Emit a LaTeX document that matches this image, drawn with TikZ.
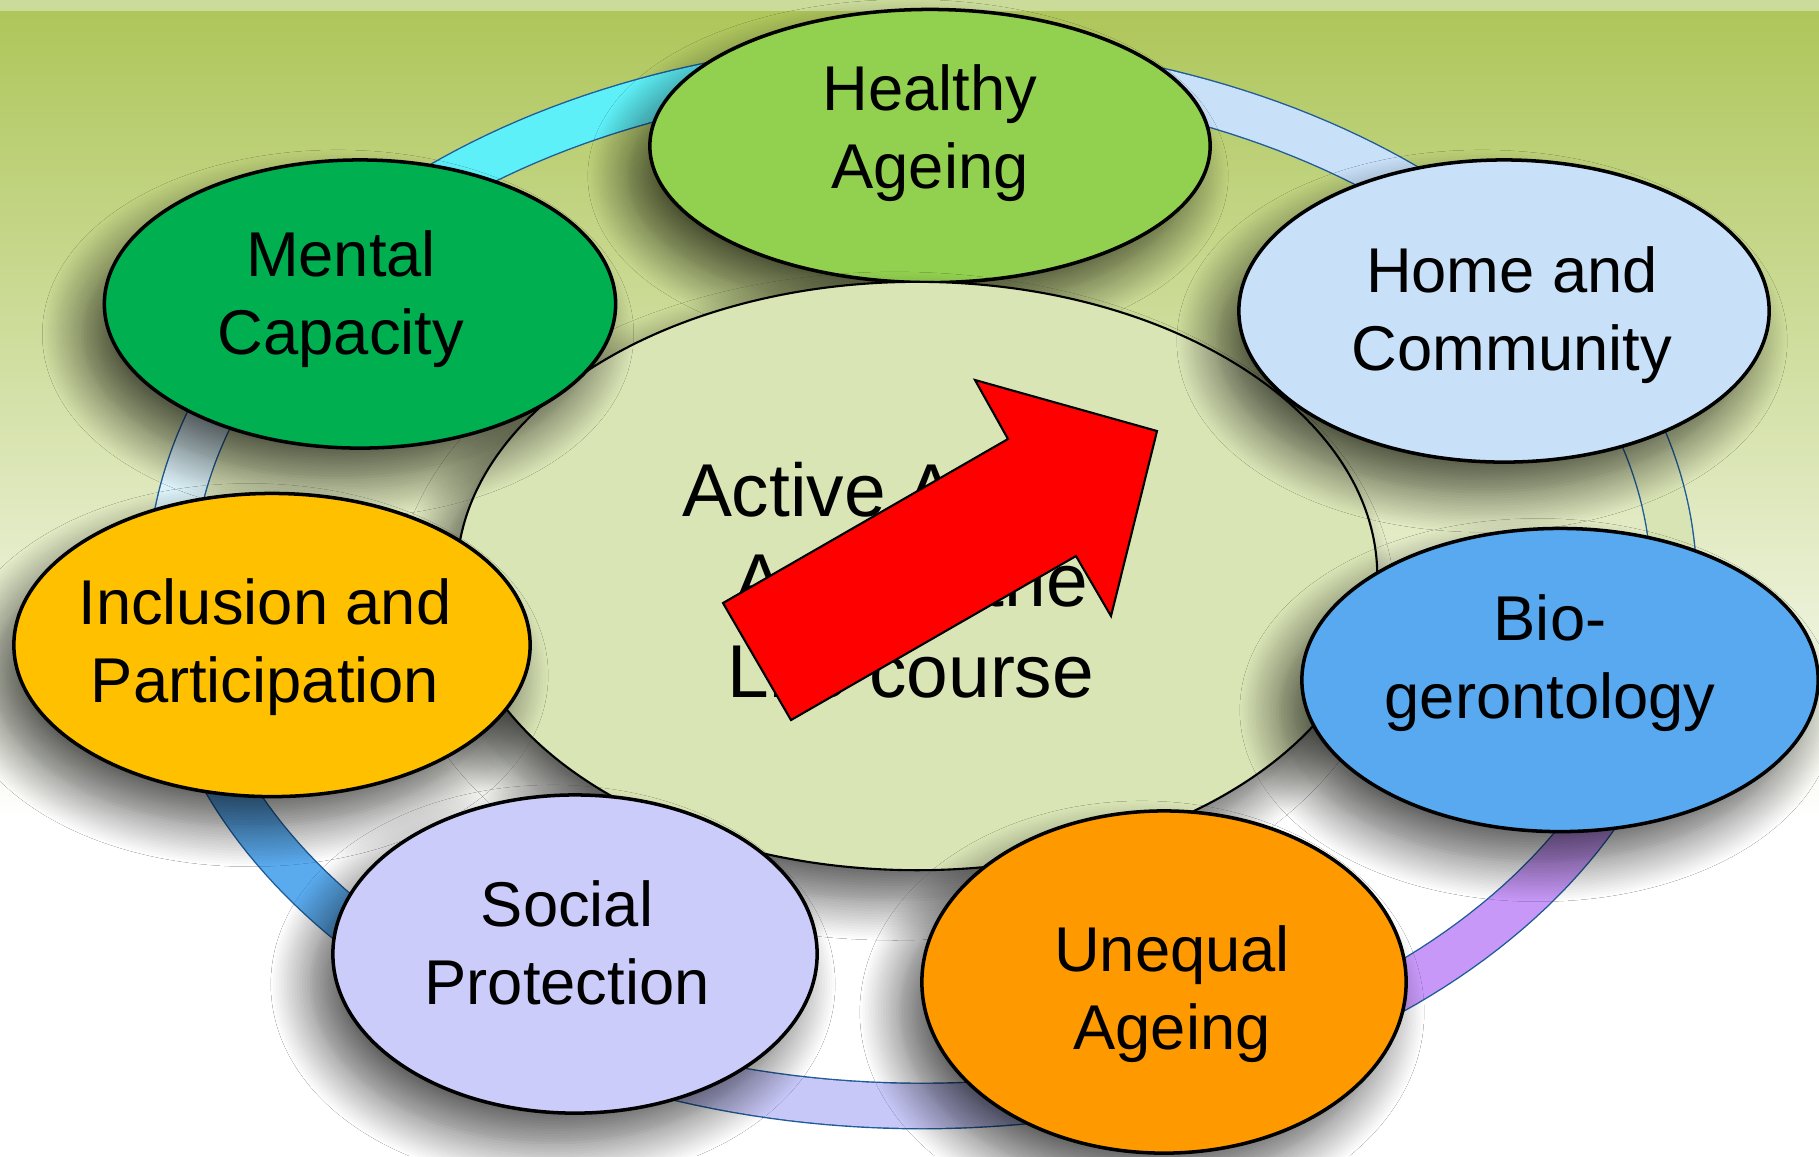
\documentclass[tikz,border=0pt]{standalone}
\usepackage{fontspec}
\setmainfont{Liberation Sans}
\usepackage{xcolor}
\usepackage{tikz}
\usetikzlibrary{shapes,arrows,positioning,shadows.blur}

\definecolor{bgstrip}{HTML}{CBDB9A}
\definecolor{bgtop}{HTML}{AEC65A}
\definecolor{bgmid}{HTML}{D8E3AE}
\definecolor{ringedge}{HTML}{1F5C99}
\definecolor{centrefill}{HTML}{DAE5B6}
\definecolor{healthyfill}{HTML}{92D050}
\definecolor{mentalfill}{HTML}{00B050}
\definecolor{homefill}{HTML}{C8E0F8}
\definecolor{inclfill}{HTML}{FFC000}
\definecolor{biofill}{HTML}{58A9EF}
\definecolor{socialfill}{HTML}{CCCCFA}
\definecolor{unequalfill}{HTML}{FF9900}
\definecolor{ringcyan}{HTML}{5EF0F8}
\definecolor{ringsky}{HTML}{C8E0F8}
\definecolor{ringpale}{HTML}{D9E4B4}
\definecolor{ringpurple}{HTML}{C898F8}
\definecolor{ringlav}{HTML}{C8C8F8}
\definecolor{ringblue}{HTML}{5AAAEE}
\definecolor{ringice}{HTML}{DCF2F8}

\begin{document}
\begin{tikzpicture}[x=0.01cm, y=-0.01cm,
        bubble/.style={ellipse, draw=black, line width=1pt, inner sep=0pt,
            blur shadow={shadow xshift=-0.22cm, shadow yshift=-0.3cm,
                shadow blur radius=0.4cm, shadow blur steps=16, shadow opacity=65}},
        lbl/.style={align=center, font=\fontsize{18}{22}\selectfont},
        ring/.style={draw=ringedge, line width=0.4pt, double distance=0.44cm}]

    \useasboundingbox (0,0) rectangle (1819,1156);
    \fill[white] (0,0) rectangle (1819,1156);
    \shade[top color=bgtop, middle color=bgmid, bottom color=white] (0,11) rectangle (1819,820);
    \fill[bgstrip] (0,0) rectangle (1819,11);

    % ring behind the bubbles
    \draw[ring, double=ringcyan]   plot[domain=-144.2:-89.3, samples=40, variable=\t] ({922+752*cos(\t)}, {585+521*sin(\t)});
    \draw[ring, double=ringsky]    plot[domain=-89.3:-34.2, samples=40, variable=\t] ({922+752*cos(\t)}, {585+521*sin(\t)});
    \draw[ring, double=ringpale]   plot[domain=-34.2:12.1, samples=40, variable=\t] ({922+752*cos(\t)}, {585+521*sin(\t)});
    \draw[ring, double=ringpurple] plot[domain=12.1:67, samples=40, variable=\t] ({922+752*cos(\t)}, {585+521*sin(\t)});
    \draw[ring, double=ringlav]    plot[domain=67:123, samples=40, variable=\t] ({922+752*cos(\t)}, {585+521*sin(\t)});
    \draw[ring, double=ringblue]   plot[domain=123:172.4, samples=40, variable=\t] ({922+752*cos(\t)}, {585+521*sin(\t)});
    \draw[ring, double=ringice]    plot[domain=172.4:215.8, samples=40, variable=\t] ({922+752*cos(\t)}, {585+521*sin(\t)});

    \node[bubble, fill=healthyfill, minimum width=5.6cm, minimum height=2.73cm] (healthy) at (930,146) {};

    \node[bubble, fill=centrefill, line width=0.6pt, minimum width=9.2cm, minimum height=5.88cm] (centre) at (917,576) {};
    \node[align=center, font=\fontsize{21.3}{25.8}\selectfont] (centre-l) at (911,580) {Active Ageing\\Across the\\Life course};
    \draw[fill=red, line width=0.6pt] (723,603) -- (1008,439) -- (975,380) -- (1157,431)
        -- (1111,616) -- (1076,556) -- (791,720) -- cycle;

    \node[bubble, fill=homefill, minimum width=5.3cm, minimum height=3.02cm] (home) at (1504,311) {};
    \node[bubble, fill=mentalfill, minimum width=5.11cm, minimum height=2.88cm] (mental) at (360,304) {};
    \node[bubble, fill=inclfill, minimum width=5.16cm, minimum height=3.03cm] (incl) at (272,645) {};
    \node[bubble, fill=biofill, minimum width=5.16cm, minimum height=3.03cm] (bio) at (1560,680) {};
    \node[bubble, fill=socialfill, minimum width=4.84cm, minimum height=3.18cm] (social) at (575,954) {};
    \node[bubble, fill=unequalfill, minimum width=4.84cm, minimum height=3.42cm] (unequal) at (1164,982) {};

    \node[lbl] (healthy-l) at (930,133) {Healthy\\Ageing};
    \node[lbl] (home-l) at (1512,315) {Home and\\Community};
    \node[lbl] (mental-l) at (341,299) {Mental\\Capacity};
    \node[lbl] (incl-l) at (265,647) {Inclusion and\\Participation};
    \node[lbl] (bio-l) at (1550,663) {Bio-\\gerontology};
    \node[lbl] (social-l) at (567,943) {Social\\Protection};
    \node[lbl] (unequal-l) at (1172,994) {Unequal\\Ageing};
\end{tikzpicture}
\end{document}
